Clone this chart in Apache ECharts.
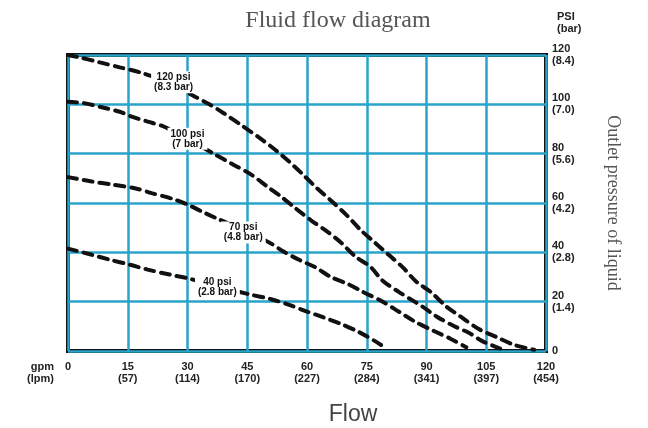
<!DOCTYPE html>
<html>
<head>
<meta charset="utf-8">
<script src="https://cdn.jsdelivr.net/npm/echarts@6/dist/echarts.min.js"></script>
<style>
  html, body { margin: 0; padding: 0; background: #fff; }
</style>
</head>
<body>
<div id="chart" style="width: 648px; height: 428px;"></div>
<script>
// tick labels
const gpmTicks = [0, 15, 30, 45, 60, 75, 90, 105, 120];
const lpmTicks = ['', '57', '114', '170', '227', '284', '341', '397', '454'];
const psiTicks = [0, 20, 40, 60, 80, 100, 120];
const barTicks = ['', '1.4', '2.8', '4.2', '5.6', '7.0', '8.4'];

// curves: [gpm, psi]
const curve120 = [[0, 120], [3, 119], [8, 117], [13, 115], [18, 113], [25, 109], [32, 103], [35.5, 100],
  [39, 96.5], [44, 91], [48, 86.5], [52, 81.6], [55.5, 76.8], [59, 71.5], [62.5, 66], [66, 61],
  [70, 55], [73.5, 49], [77, 44], [80.5, 39], [84, 34], [87.5, 28], [91, 24], [95, 18], [98.5, 14],
  [103, 9], [107.5, 5.7], [112, 2.5], [117, 0.5]];
const curve100 = [[0, 101], [4, 100.5], [9, 98.6], [13, 97], [16, 95], [20, 93], [24, 91], [30, 86],
  [37, 79.6], [41, 76], [46, 71.5], [50, 66.7], [53.5, 62.6], [57, 58], [61, 53], [65, 48.5],
  [68.5, 44], [72, 38.5], [76, 34], [79, 28.5], [83, 24], [87, 20], [89, 18], [92.5, 14],
  [97, 10], [100.5, 7.5], [104, 4], [108.5, 1]];
const curve70 = [[0, 70.5], [6, 68.7], [11, 67.5], [17, 65.9], [21, 64], [26, 61.8], [30, 59.4],
  [33.5, 56.6], [37, 54], [44, 49], [50.5, 44], [54, 40.4], [58, 37], [62, 34], [66, 30],
  [70.5, 27], [74, 24], [79, 20], [83, 16], [87, 12], [92, 8], [96, 5], [100, 1.5]];
const curve40 = [[0, 41.5], [6, 39], [10.5, 37], [15.5, 35], [20, 33], [25.5, 31], [30, 29.5],
  [38, 26], [45.5, 23], [51, 21], [55, 19], [60, 16], [64, 13.7], [68.5, 11], [73, 7.7],
  [77.5, 3.6], [80, 0.8]];

const curveNames = ['120 psi\n(8.3 bar)', '100 psi\n(7 bar)', '70 psi\n(4.8 bar)', '40 psi\n(2.8 bar)'];
const labelSpots = [[26.5, 109], [30, 86], [44, 48], [37.5, 26]];

const chart = echarts.init(document.getElementById('chart'));

const dashLine = (data) => ({
  type: 'line',
  data: data,
  smooth: 0.3,
  symbol: 'none',
  lineStyle: { color: '#111', width: 4, type: [9, 7], cap: 'round' },
  z: 3
});

const tickFont = { fontFamily: 'Liberation Sans', fontSize: 11, fontWeight: 'bold', color: '#222', lineHeight: 12 };

chart.setOption({
  animation: false,
  title: [
    {
      text: 'Fluid flow diagram',
      left: 333, top: 4, textAlign: 'center',
      textStyle: { fontFamily: 'Liberation Serif', fontSize: 24, fontWeight: 'normal', color: '#555' }
    },
    {
      text: 'Flow',
      left: 348, top: 398, textAlign: 'center',
      textStyle: { fontFamily: 'Liberation Sans', fontSize: 23, fontWeight: 'normal', color: '#444' }
    },
    {
      text: 'PSI\n(bar)',
      left: 552, top: 6,
      textStyle: { fontFamily: 'Liberation Sans', fontSize: 11, fontWeight: 'bold', color: '#222', lineHeight: 12 }
    }
  ],
  grid: {
    left: 68, right: 102, top: 55, bottom: 77,
    show: true, borderColor: '#111', borderWidth: 4
  },
  xAxis: {
    type: 'value',
    min: 0, max: 120, interval: 15,
    name: 'gpm\n(lpm)',
    nameLocation: 'start',
    nameGap: 14,
    nameTextStyle: Object.assign({}, tickFont, { verticalAlign: 'top', padding: [10, 0, 0, 0] }),
    axisLine: { show: false },
    axisTick: { show: false },
    splitLine: { show: true, lineStyle: { color: '#28a3c9', width: 2.5 } },
    axisLabel: Object.assign({}, tickFont, {
      margin: 10,
      formatter: (v) => {
        const i = gpmTicks.indexOf(v);
        return lpmTicks[i] ? v + '\n(' + lpmTicks[i] + ')' : String(v);
      }
    })
  },
  yAxis: {
    type: 'value',
    position: 'right',
    min: 0, max: 120, interval: 20,
    name: 'Outlet pressure of liquid',
    nameLocation: 'middle',
    nameRotate: -90,
    nameGap: 58,
    nameTextStyle: { fontFamily: 'Liberation Serif', fontSize: 18, color: '#555' },
    axisLine: { show: false },
    axisTick: { show: false },
    splitLine: { show: true, lineStyle: { color: '#28a3c9', width: 2.5 } },
    axisLabel: Object.assign({}, tickFont, {
      margin: 6,
      formatter: (v) => {
        const i = psiTicks.indexOf(v);
        return barTicks[i] ? v + '\n(' + barTicks[i] + ')' : String(v);
      }
    })
  },
  series: [
    dashLine(curve120),
    dashLine(curve100),
    dashLine(curve70),
    dashLine(curve40),
    {
      type: 'scatter',
      symbolSize: 0,
      z: 5,
      itemStyle: { opacity: 1 },
      data: labelSpots.map((p, i) => ({ value: p, name: curveNames[i] })),
      label: {
        show: true,
        position: 'inside',
        formatter: (p) => p.name,
        fontFamily: 'Liberation Sans',
        fontSize: 10,
        fontWeight: 'bold',
        color: '#111',
        lineHeight: 10,
        align: 'center',
        backgroundColor: '#fff',
        opacity: 1,
        padding: [1, 3]
      }
    }
  ]
});
</script>
</body>
</html>
